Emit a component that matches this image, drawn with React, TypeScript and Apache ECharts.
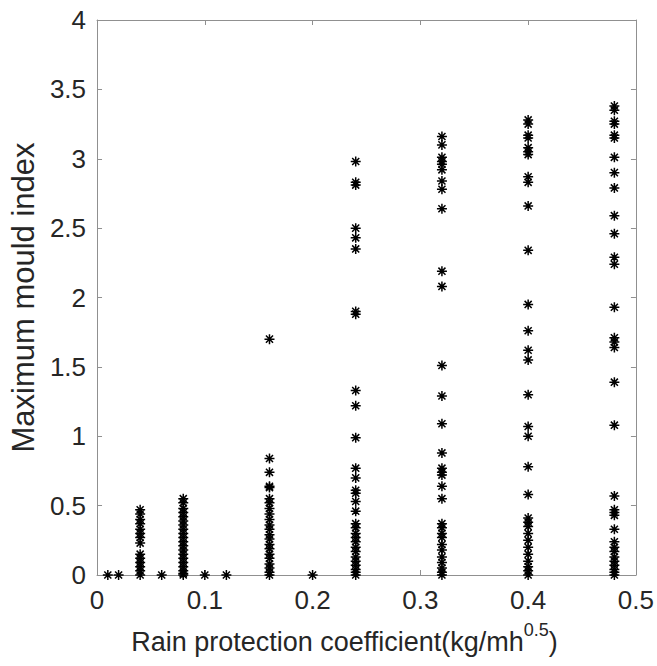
import React, { useEffect, useRef } from "react";
import * as echarts from "echarts";

const xPositions = [0.01, 0.02, 0.04, 0.06, 0.08, 0.1, 0.12, 0.16, 0.2, 0.24, 0.32, 0.4, 0.48];

const col001 = [0];
const col002 = [0];
const col004 = [0.47, 0.44, 0.4, 0.37, 0.33, 0.3, 0.27, 0.23, 0.15, 0.12, 0.09, 0.06, 0.03, 0];
const col006 = [0];
const col008 = [0.55, 0.52, 0.48, 0.45, 0.42, 0.39, 0.36, 0.33, 0.3, 0.27, 0.24, 0.21, 0.18, 0.15, 0.12, 0.09, 0.06, 0.03, 0.01, 0];
const col010 = [0];
const col012 = [0];
const col016 = [1.7, 0.84, 0.74, 0.64, 0.63, 0.55, 0.52, 0.48, 0.44, 0.4, 0.36, 0.33, 0.29, 0.26, 0.22, 0.19, 0.15, 0.12, 0.08, 0.05, 0.02, 0];
const col020 = [0];
const col024 = [2.98, 2.83, 2.81, 2.5, 2.43, 2.35, 1.9, 1.88, 1.33, 1.22, 0.99, 0.77, 0.7, 0.61, 0.59, 0.53, 0.46, 0.37, 0.34, 0.3, 0.27, 0.24, 0.2, 0.17, 0.13, 0.1, 0.07, 0.04, 0.02, 0];
const col032 = [3.16, 3.1, 3.01, 2.98, 2.96, 2.92, 2.84, 2.78, 2.64, 2.19, 2.08, 1.51, 1.29, 1.09, 0.88, 0.77, 0.74, 0.72, 0.64, 0.55, 0.37, 0.34, 0.3, 0.27, 0.22, 0.18, 0.13, 0.09, 0.05, 0.02, 0];
const col040 = [3.28, 3.25, 3.17, 3.15, 3.08, 3.05, 3.03, 2.87, 2.83, 2.66, 2.34, 1.95, 1.76, 1.62, 1.55, 1.3, 1.07, 1.0, 0.78, 0.58, 0.41, 0.38, 0.35, 0.3, 0.25, 0.2, 0.15, 0.1, 0.06, 0.03, 0];
const col048 = [3.38, 3.35, 3.27, 3.25, 3.17, 3.15, 3.01, 2.9, 2.79, 2.59, 2.46, 2.29, 2.24, 1.93, 1.71, 1.68, 1.64, 1.39, 1.08, 0.57, 0.47, 0.45, 0.43, 0.33, 0.24, 0.2, 0.17, 0.13, 0.1, 0.07, 0.04, 0.02, 0];

const columns = [col001, col002, col004, col006, col008, col010, col012, col016, col020, col024, col032, col040, col048];

const xTicks = [0, 0.1, 0.2, 0.3, 0.4, 0.5];
const yTicks = [0, 0.5, 1, 1.5, 2, 2.5, 3, 3.5, 4];

const asterisk = "path://M0,-1L0,1M-1,0L1,0M-0.7071,-0.7071L0.7071,0.7071M-0.7071,0.7071L0.7071,-0.7071";

export default function App() {
  const ref = useRef<HTMLDivElement>(null);
  useEffect(() => {
    if (!ref.current) return;
    const chart = echarts.init(ref.current, undefined, { renderer: "svg" });
    const data: number[][] = [];
    columns.forEach((col, i) => col.forEach((v) => data.push([xPositions[i], v])));
    const font = "Liberation Sans, Arial, Helvetica, sans-serif";
    const axisColor = "#909090";
    const textColor = "#262626";
    const common = {
      axisLine: { show: true, onZero: false, lineStyle: { color: axisColor, width: 1 } },
      axisTick: { show: true, inside: true, length: 5, lineStyle: { color: axisColor } },
      splitLine: { show: false },
    };
    chart.setOption({
      animation: false,
      backgroundColor: "#ffffff",
      grid: { left: 93, right: 21, top: 20, bottom: 91, containLabel: false },
      xAxis: [
        {
          ...common,
          type: "value",
          min: 0,
          max: 0.5,
          interval: 0.1,
          axisLabel: {
            color: textColor,
            fontSize: 26,
            fontFamily: font,
            margin: 12,
            formatter: (v: number) => (xTicks.includes(Math.round(v * 10) / 10) ? String(Math.round(v * 10) / 10) : ""),
          },
          name: "{a|Rain protection coefficient(kg/mh}{s|0.5}{a|)}",
          nameLocation: "middle",
          nameGap: 46,
          nameTextStyle: {
            padding: [0, 44, 0, 0],
            rich: {
              a: { fontSize: 27, fontFamily: font, color: textColor, verticalAlign: "bottom", lineHeight: 34 },
              s: { fontSize: 18, fontFamily: font, color: textColor, verticalAlign: "top", lineHeight: 34, padding: [0, 0, 14, 0] },
            },
          },
        },
        {
          ...common,
          type: "value",
          position: "top",
          min: 0,
          max: 0.5,
          interval: 0.1,
          axisLabel: { show: false },
        },
      ],
      yAxis: [
        {
          ...common,
          type: "value",
          min: 0,
          max: 4,
          interval: 0.5,
          axisLabel: {
            color: textColor,
            fontSize: 26,
            fontFamily: font,
            margin: 11,
            formatter: (v: number) => (yTicks.includes(v) ? String(v) : ""),
          },
          name: "Maximum mould index",
          nameLocation: "middle",
          nameGap: 51,
          nameTextStyle: { fontSize: 31, fontFamily: font, color: textColor },
        },
        {
          ...common,
          type: "value",
          position: "right",
          min: 0,
          max: 4,
          interval: 0.5,
          axisLabel: { show: false },
        },
      ],
      series: [
        {
          type: "scatter",
          data,
          symbol: asterisk,
          symbolSize: 10,
          itemStyle: { color: "transparent", borderColor: "#000000", borderWidth: 1.5, opacity: 1 },
          emphasis: { disabled: true },
          clip: false,
        },
      ],
    });
    return () => chart.dispose();
  }, []);
  return (
    <div
      ref={ref}
      style={{ position: "absolute", left: 0, top: 0, width: 657, height: 666 }}
    />
  );
}
